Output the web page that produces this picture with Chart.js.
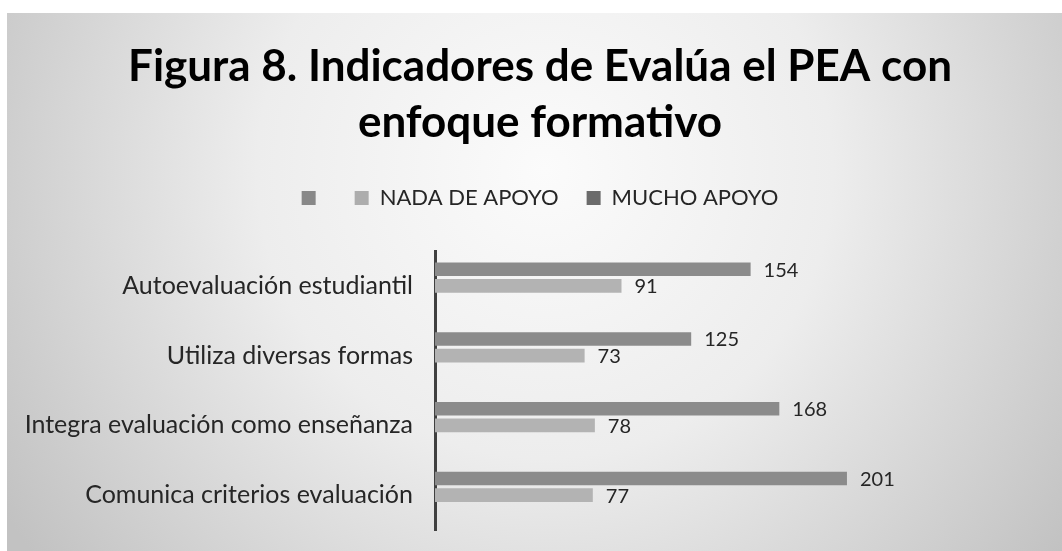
<!DOCTYPE html>
<html>
<head>
<meta charset="utf-8">
<script src="https://cdn.jsdelivr.net/npm/chart.js@4/dist/chart.umd.min.js"></script>
<style>
  html, body { margin: 0; padding: 0; background: #ffffff; }
  #wrap { width: 1062px; height: 551px; position: relative; }
</style>
</head>
<body>
<div id="wrap"><canvas id="c" width="1062" height="551"></canvas></div>
<script>
const categories = [
  'Autoevaluación estudiantil',
  'Utiliza diversas formas',
  'Integra evaluación como enseñanza',
  'Comunica criterios evaluación'
];
const muchoApoyo = [154, 125, 168, 201];
const nadaDeApoyo = [91, 73, 78, 77];
const serieSinNombre = [null, null, null, null];
const seriesNames = ['MUCHO APOYO', 'NADA DE APOYO', ''];
const titleLines = ['Figura 8. Indicadores de Evalúa el PEA con', 'enfoque formativo'];

const barColors = ['#8b8b8b', '#b3b3b3', '#878787'];
const legendColors = ['#6b6b6b', '#adadad', '#888888'];

const bgPlugin = {
  id: 'bg',
  beforeDraw(chart) {
    const ctx = chart.ctx;
    ctx.save();
    ctx.fillStyle = '#ffffff';
    ctx.fillRect(0, 0, chart.width, chart.height);
    const g = ctx.createRadialGradient(545, 170, 0, 545, 170, 640);
    g.addColorStop(0, '#fbfbfb');
    g.addColorStop(0.45, '#ededed');
    g.addColorStop(1, '#c2c2c2');
    ctx.fillStyle = g;
    ctx.fillRect(7, 13, chart.width - 7, chart.height - 13);
    ctx.restore();
  }
};

const valueLabels = {
  id: 'valueLabels',
  afterDatasetsDraw(chart) {
    const ctx = chart.ctx;
    ctx.save();
    ctx.font = '20px Lato';
    ctx.fillStyle = '#262626';
    ctx.textAlign = 'left';
    ctx.textBaseline = 'middle';
    chart.data.datasets.forEach((ds, i) => {
      const meta = chart.getDatasetMeta(i);
      meta.data.forEach((el, j) => {
        const v = ds.data[j];
        if (v === null || v === undefined) return;
        ctx.fillText(String(v), el.x + 13, el.y + 1);
      });
    });
    ctx.restore();
  }
};

new Chart(document.getElementById('c'), {
  type: 'bar',
  data: {
    labels: categories,
    datasets: [
      { label: seriesNames[0], data: muchoApoyo, backgroundColor: barColors[0] },
      { label: seriesNames[1], data: nadaDeApoyo, backgroundColor: barColors[1] },
      { label: seriesNames[2], data: serieSinNombre, backgroundColor: barColors[2] }
    ]
  },
  options: {
    indexAxis: 'y',
    responsive: false,
    animation: false,
    devicePixelRatio: 1,
    categoryPercentage: 0.715,
    barPercentage: 0.82,
    layout: { padding: { top: 39, bottom: 21, left: 24, right: 6 } },
    plugins: {
      title: {
        display: true,
        text: titleLines,
        color: '#000000',
        font: { family: 'Lato', weight: 'bold', size: 44, lineHeight: 56 / 44 },
        padding: { top: 0, bottom: 8 }
      },
      legend: {
        display: true,
        position: 'top',
        reverse: true,
        labels: {
          boxWidth: 14,
          boxHeight: 14,
          padding: 28,
          color: '#262626',
          font: { family: 'Lato', size: 22 },
          generateLabels(chart) {
            const items = Chart.defaults.plugins.legend.labels.generateLabels(chart);
            items.forEach(it => {
              it.fillStyle = legendColors[it.datasetIndex];
              it.strokeStyle = legendColors[it.datasetIndex];
              it.lineWidth = 0;
            });
            return items;
          }
        }
      },
      tooltip: { enabled: false }
    },
    scales: {
      x: {
        position: 'top',
        min: 0,
        max: 303,
        display: true,
        grid: { display: false },
        border: { display: false },
        ticks: { display: false },
        afterFit(scale) { scale.height = 32; }
      },
      y: {
        grid: { display: false, drawTicks: false },
        border: { display: true, color: '#404040', width: 3 },
        ticks: {
          color: '#262626',
          padding: 22,
          font: { family: 'Lato', size: 25 }
        },
        afterFit(scale) {
          scale.width = 411;
          scale.paddingTop = 0;
          scale.paddingBottom = 0;
        }
      }
    }
  },
  plugins: [bgPlugin, valueLabels]
});
</script>
</body>
</html>
